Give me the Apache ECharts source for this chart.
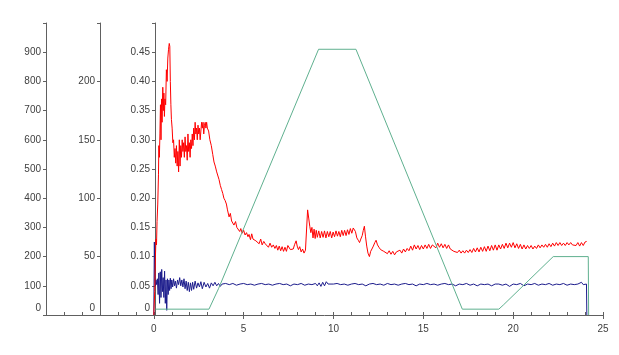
<!DOCTYPE html>
<html>
<head>
<meta charset="utf-8">
<script src="https://cdn.jsdelivr.net/npm/echarts@6/dist/echarts.min.js"></script>
<style>
  html, body { margin: 0; padding: 0; background: #fff; }
  #main { width: 619px; height: 355px; }
</style>
</head>
<body>
<div id="main"></div>
<script>
// x axis
var xMin = -6;
var xMax = 25;
var xLabels = [0, 5, 10, 15, 20, 25];

// y axes (outer, middle, inner)
var yOuter = { max: 1000, step: 100 };
var yMiddle = { max: 250, step: 50 };
var yInner = { max: 0.5, step: 0.05 };

// green trapezoid
var greenData = [
  [0.1, 0.01], [3.07, 0.01], [3.6, 0.045], [9.17, 0.455], [11.25, 0.455],
  [17.17, 0.01], [19.2, 0.01], [19.45, 0.017], [22.23, 0.1], [24.18, 0.1], [24.2, 0.0]
];

// red trace
var redData = [
  [0.0, 0.0], [0.05, 0.04], [0.09, 0.10], [0.12, 0.13], [0.15, 0.12], [0.18, 0.16], [0.22, 0.19],
  [0.26, 0.24], [0.28, 0.29], [0.31, 0.27], [0.34, 0.31], [0.37, 0.36], [0.40, 0.30], [0.43, 0.37],
  [0.46, 0.33], [0.50, 0.39], [0.53, 0.35], [0.56, 0.38], [0.59, 0.34], [0.62, 0.37], [0.66, 0.36],
  [0.70, 0.42], [0.74, 0.40], [0.78, 0.44], [0.82, 0.455], [0.86, 0.465], [0.89, 0.46], [0.92, 0.40],
  [0.95, 0.36], [0.98, 0.335], [1.02, 0.32], [1.06, 0.295], [1.10, 0.30], [1.14, 0.27], [1.18, 0.285],
  [1.22, 0.26], [1.26, 0.29], [1.30, 0.255], [1.34, 0.28], [1.38, 0.245], [1.42, 0.30], [1.46, 0.255],
  [1.50, 0.29], [1.54, 0.27], [1.58, 0.30], [1.62, 0.28], [1.66, 0.295], [1.70, 0.27], [1.74, 0.305],
  [1.78, 0.28], [1.82, 0.29], [1.86, 0.265], [1.90, 0.31], [1.94, 0.28], [1.98, 0.295], [2.02, 0.27],
  [2.06, 0.30], [2.10, 0.285], [2.14, 0.31], [2.18, 0.29], [2.22, 0.32], [2.26, 0.30], [2.30, 0.33],
  [2.34, 0.31], [2.38, 0.32], [2.42, 0.30], [2.46, 0.325], [2.50, 0.31], [2.54, 0.32], [2.58, 0.30],
  [2.62, 0.315], [2.66, 0.33], [2.70, 0.32], [2.74, 0.33], [2.78, 0.31], [2.82, 0.325], [2.86, 0.33],
  [2.90, 0.32], [2.94, 0.33], [2.98, 0.32], [3.05, 0.315], [3.12, 0.30], [3.2, 0.29], [3.28, 0.275],
  [3.35, 0.262], [3.42, 0.255], [3.5, 0.245], [3.57, 0.238], [3.63, 0.232], [3.7, 0.222], [3.77, 0.215],
  [3.84, 0.208], [3.9, 0.2], [3.97, 0.196], [4.04, 0.19], [4.1, 0.18], [4.19, 0.168], [4.26, 0.174],
  [4.33, 0.161], [4.4, 0.163], [4.46, 0.154], [4.55, 0.16], [4.62, 0.15], [4.7, 0.152], [4.78, 0.143],
  [4.84, 0.148], [4.92, 0.14], [5.0, 0.145], [5.08, 0.137], [5.16, 0.141], [5.24, 0.134], [5.3, 0.138],
  [5.38, 0.129], [5.45, 0.139], [5.52, 0.13], [5.6, 0.132], [5.68, 0.127], [5.77, 0.129], [5.86, 0.122],
  [5.95, 0.13], [6.03, 0.12], [6.12, 0.126], [6.2, 0.122], [6.3, 0.124], [6.38, 0.116], [6.47, 0.123],
  [6.56, 0.116], [6.65, 0.12], [6.74, 0.114], [6.82, 0.119], [6.9, 0.111], [6.98, 0.118], [7.06, 0.11],
  [7.14, 0.117], [7.22, 0.109], [7.3, 0.116], [7.38, 0.109], [7.46, 0.119], [7.54, 0.122], [7.6, 0.112],
  [7.68, 0.115], [7.76, 0.113], [7.84, 0.121], [7.92, 0.127], [7.98, 0.118], [8.05, 0.112], [8.12, 0.117],
  [8.2, 0.108], [8.28, 0.113], [8.36, 0.106], [8.44, 0.111], [8.5, 0.109], [8.56, 0.18], [8.62, 0.166],
  [8.68, 0.152], [8.74, 0.141], [8.8, 0.15], [8.86, 0.132], [8.92, 0.147], [8.98, 0.131], [9.04, 0.145],
  [9.1, 0.133], [9.18, 0.144], [9.26, 0.132], [9.34, 0.143], [9.42, 0.133], [9.5, 0.144], [9.58, 0.132],
  [9.66, 0.143], [9.74, 0.134], [9.82, 0.143], [9.9, 0.132], [9.98, 0.142], [10.06, 0.134], [10.14, 0.144],
  [10.22, 0.135], [10.3, 0.143], [10.38, 0.134], [10.46, 0.145], [10.54, 0.136], [10.62, 0.145], [10.7, 0.136],
  [10.78, 0.146], [10.86, 0.138], [10.94, 0.148], [11.02, 0.14], [11.1, 0.149], [11.16, 0.152], [11.22, 0.143],
  [11.3, 0.132], [11.38, 0.128], [11.45, 0.124], [11.52, 0.13], [11.6, 0.136], [11.66, 0.145], [11.72, 0.152],
  [11.78, 0.135], [11.85, 0.118], [11.92, 0.106], [12.0, 0.1], [12.07, 0.109], [12.14, 0.113], [12.22, 0.118],
  [12.3, 0.124], [12.37, 0.128], [12.45, 0.12], [12.53, 0.116], [12.62, 0.112], [12.7, 0.114], [12.8, 0.109],
  [12.9, 0.111], [13.0, 0.105], [13.1, 0.11], [13.2, 0.104], [13.3, 0.109], [13.4, 0.103], [13.5, 0.108],
  [13.6, 0.105], [13.7, 0.111], [13.8, 0.106], [13.9, 0.113], [14.0, 0.108], [14.1, 0.114], [14.2, 0.11],
  [14.3, 0.118], [14.4, 0.111], [14.5, 0.12], [14.6, 0.113], [14.7, 0.119], [14.8, 0.112], [14.9, 0.119],
  [15.0, 0.113], [15.1, 0.12], [15.2, 0.114], [15.3, 0.121], [15.4, 0.114], [15.5, 0.12], [15.6, 0.122],
  [15.7, 0.115], [15.8, 0.123], [15.9, 0.116], [16.0, 0.122], [16.1, 0.115], [16.2, 0.121], [16.3, 0.114],
  [16.4, 0.12], [16.5, 0.113], [16.6, 0.115], [16.7, 0.109], [16.8, 0.112], [16.9, 0.107], [17.0, 0.111],
  [17.1, 0.106], [17.2, 0.11], [17.3, 0.106], [17.4, 0.111], [17.5, 0.107], [17.6, 0.112], [17.7, 0.107],
  [17.8, 0.114], [17.9, 0.108], [18.0, 0.115], [18.1, 0.108], [18.2, 0.116], [18.3, 0.109], [18.4, 0.117],
  [18.5, 0.109], [18.6, 0.118], [18.7, 0.11], [18.8, 0.119], [18.9, 0.111], [19.0, 0.12], [19.1, 0.111],
  [19.2, 0.12], [19.3, 0.113], [19.4, 0.121], [19.5, 0.114], [19.6, 0.123], [19.7, 0.115], [19.8, 0.123],
  [19.9, 0.116], [20.0, 0.124], [20.1, 0.115], [20.2, 0.122], [20.3, 0.114], [20.4, 0.121], [20.5, 0.113],
  [20.6, 0.12], [20.7, 0.113], [20.8, 0.119], [20.9, 0.114], [21.0, 0.119], [21.1, 0.113], [21.2, 0.118],
  [21.3, 0.114], [21.4, 0.12], [21.5, 0.115], [21.6, 0.12], [21.7, 0.116], [21.8, 0.121], [21.9, 0.116],
  [22.0, 0.122], [22.1, 0.117], [22.2, 0.123], [22.3, 0.118], [22.4, 0.124], [22.5, 0.119], [22.6, 0.124],
  [22.7, 0.119], [22.8, 0.123], [22.9, 0.119], [23.0, 0.124], [23.1, 0.12], [23.2, 0.124], [23.3, 0.12],
  [23.4, 0.123], [23.5, 0.119], [23.6, 0.124], [23.7, 0.118], [23.8, 0.124], [23.9, 0.119], [24.0, 0.125],
  [24.09, 0.126]
];

// blue trace
var blueData = [
  [0.0, 0.0], [0.03, 0.125], [0.06, 0.06], [0.09, 0.05], [0.12, 0.06], [0.16, 0.052], [0.2, 0.062],
  [0.24, 0.035], [0.28, 0.072], [0.32, 0.02], [0.36, 0.074], [0.4, 0.03], [0.44, 0.078], [0.48, 0.04],
  [0.52, 0.064], [0.56, 0.03], [0.6, 0.075], [0.64, 0.02], [0.68, 0.06], [0.72, 0.008], [0.76, 0.062],
  [0.8, 0.035], [0.84, 0.06], [0.88, 0.042], [0.92, 0.063], [0.96, 0.045], [1.0, 0.06], [1.05, 0.048],
  [1.1, 0.062], [1.15, 0.05], [1.2, 0.058], [1.26, 0.046], [1.32, 0.06], [1.38, 0.052], [1.44, 0.064],
  [1.5, 0.05], [1.56, 0.06], [1.62, 0.048], [1.68, 0.062], [1.74, 0.045], [1.8, 0.058], [1.86, 0.042],
  [1.92, 0.056], [1.98, 0.04], [2.04, 0.055], [2.1, 0.042], [2.16, 0.056], [2.22, 0.044], [2.3, 0.058],
  [2.38, 0.046], [2.46, 0.055], [2.54, 0.048], [2.62, 0.057], [2.7, 0.045], [2.8, 0.056], [2.9, 0.048],
  [3.0, 0.054], [3.1, 0.046], [3.2, 0.055], [3.3, 0.05], [3.4, 0.056], [3.5, 0.05], [3.6, 0.054],
  [3.7, 0.049], [3.8, 0.053], [3.9, 0.051], [4.0, 0.054], [4.2, 0.052], [4.4, 0.054], [4.6, 0.051],
  [4.8, 0.053], [5.0, 0.054], [5.2, 0.052], [5.4, 0.053], [5.6, 0.051], [5.8, 0.053], [6.0, 0.054],
  [6.2, 0.052], [6.4, 0.053], [6.6, 0.051], [6.8, 0.053], [7.0, 0.054], [7.2, 0.052], [7.4, 0.053],
  [7.6, 0.05], [7.8, 0.053], [8.0, 0.052], [8.2, 0.054], [8.4, 0.051], [8.6, 0.053], [8.8, 0.052],
  [9.0, 0.054], [9.1, 0.05], [9.2, 0.055], [9.3, 0.049], [9.4, 0.056], [9.5, 0.05], [9.6, 0.057],
  [9.7, 0.053], [9.8, 0.055], [10.0, 0.053], [10.2, 0.054], [10.4, 0.052], [10.6, 0.053], [10.8, 0.051],
  [11.0, 0.053], [11.2, 0.054], [11.4, 0.052], [11.6, 0.053], [11.8, 0.05], [12.0, 0.053], [12.2, 0.054],
  [12.4, 0.052], [12.6, 0.053], [12.8, 0.051], [13.0, 0.054], [13.2, 0.052], [13.4, 0.053], [13.6, 0.051],
  [13.8, 0.053], [14.0, 0.054], [14.2, 0.052], [14.4, 0.053], [14.6, 0.05], [14.8, 0.053], [15.0, 0.052],
  [15.2, 0.054], [15.4, 0.052], [15.6, 0.053], [15.8, 0.051], [16.0, 0.053], [16.2, 0.054], [16.4, 0.052],
  [16.6, 0.053], [16.8, 0.05], [17.0, 0.053], [17.2, 0.052], [17.4, 0.054], [17.6, 0.051], [17.8, 0.053],
  [18.0, 0.05], [18.2, 0.053], [18.4, 0.052], [18.6, 0.053], [18.8, 0.05], [19.0, 0.053], [19.2, 0.053],
  [19.4, 0.051], [19.6, 0.053], [19.8, 0.049], [20.0, 0.053], [20.2, 0.052], [20.4, 0.054], [20.6, 0.05],
  [20.8, 0.053], [21.0, 0.052], [21.2, 0.054], [21.4, 0.051], [21.6, 0.053], [21.8, 0.052], [22.0, 0.054],
  [22.2, 0.051], [22.4, 0.053], [22.6, 0.052], [22.8, 0.054], [23.0, 0.051], [23.2, 0.053], [23.4, 0.052],
  [23.6, 0.053], [23.8, 0.056], [23.9, 0.052], [24.0, 0.054], [24.08, 0.053], [24.1, 0.0]
];

var textColor = '#404040';
var lineColor = '#606060';
var fontFam = '"Liberation Sans", Arial, sans-serif';

function yAxisDef(cfg, offset, fmt) {
  return {
    type: 'value',
    position: 'left',
    offset: offset,
    min: 0,
    max: cfg.max,
    interval: cfg.step,
    splitLine: { show: false },
    axisLine: { show: true, onZero: false, lineStyle: { color: lineColor, width: 1 } },
    axisTick: { show: true, length: 3, lineStyle: { color: lineColor } },
    axisLabel: {
      margin: 5,
      color: textColor,
      fontFamily: fontFam,
      fontSize: 10,
      formatter: function (v) {
        if (Math.abs(v - cfg.max) < 1e-9) return '';
        if (v === 0) return '{z|0}';
        return fmt(v);
      },
      rich: {
        z: { color: textColor, fontFamily: fontFam, fontSize: 10, padding: [0, 0, 14, 0] }
      }
    }
  };
}

var chart = echarts.init(document.getElementById('main'), null, { renderer: 'canvas' });

var option = {
  animation: false,
  backgroundColor: '#ffffff',
  grid: { left: 46, right: 16, top: 23, bottom: 40, outerBoundsMode: 'none' },
  xAxis: [
    {
      type: 'value',
      min: xMin,
      max: xMax,
      interval: 1,
      splitLine: { show: false },
      axisLine: { show: true, onZero: false, lineStyle: { color: lineColor } },
      axisTick: { show: true, inside: true, length: 3, lineStyle: { color: lineColor } },
      axisLabel: {
        margin: 9,
        color: textColor,
        fontFamily: fontFam,
        fontSize: 10,
        formatter: function (v) {
          return xLabels.indexOf(v) >= 0 ? String(v) : '';
        }
      }
    },
    {
      // major ticks on top of the minor ones
      type: 'value',
      position: 'bottom',
      min: xMin,
      max: xMax,
      interval: 1,
      splitLine: { show: false },
      axisLine: { show: false, onZero: false },
      axisTick: { show: true, length: 4, customValues: xLabels, lineStyle: { color: lineColor } },
      axisLabel: { show: false }
    }
  ],
  yAxis: [
    yAxisDef(yOuter, 0, function (v) { return String(v); }),
    yAxisDef(yMiddle, -54, function (v) { return String(v); }),
    yAxisDef(yInner, -109, function (v) { return v.toFixed(2); })
  ],
  series: [
    {
      type: 'line', name: 'blue', xAxisIndex: 0, yAxisIndex: 2,
      data: blueData, showSymbol: false, symbol: 'none',
      lineStyle: { color: '#1c1c8c', width: 1 }
    },
    {
      type: 'line', name: 'red', xAxisIndex: 0, yAxisIndex: 2,
      data: redData, showSymbol: false, symbol: 'none',
      lineStyle: { color: '#ff0000', width: 1 }
    },
    {
      type: 'line', name: 'green', xAxisIndex: 0, yAxisIndex: 2,
      data: greenData, showSymbol: false, symbol: 'none',
      lineStyle: { color: '#5fb08f', width: 1 }
    }
  ]
};

chart.setOption(option);
</script>
</body>
</html>
